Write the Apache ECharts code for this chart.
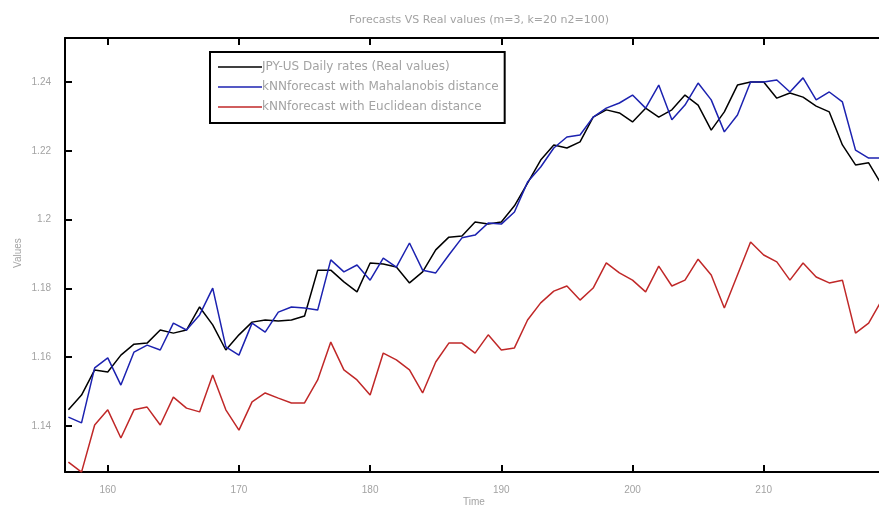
<!DOCTYPE html>
<html>
<head>
<meta charset="utf-8">
<script src="https://cdn.jsdelivr.net/npm/echarts@6/dist/echarts.min.js"></script>
<style>
  html, body { margin: 0; padding: 0; background: #fff; overflow: hidden; width: 879px; height: 508px; }
  /* the plot area runs past the right edge of the window */
  #chart { width: 920px; height: 508px; }
</style>
</head>
<body>
<div id="chart"></div>
<script>
// Time steps (days)
const timeSteps = [157,158,159,160,161,162,163,164,165,166,167,168,169,170,171,172,173,174,175,176,177,178,179,180,181,182,183,184,185,186,187,188,189,190,191,192,193,194,195,196,197,198,199,200,201,202,203,204,205,206,207,208,209,210,211,212,213,214,215,216,217,218,219];

// JPY-US daily rates (real values)
const realValues = [1.1447,1.1490,1.1563,1.1557,1.1606,1.1638,1.1641,1.1679,1.1670,1.1679,1.1746,1.1694,1.1621,1.1665,1.1702,1.1708,1.1705,1.1708,1.1720,1.1853,1.1853,1.1819,1.1790,1.1874,1.1871,1.1862,1.1816,1.1848,1.1912,1.1949,1.1952,1.1993,1.1987,1.1993,1.2040,1.2106,1.2173,1.2217,1.2208,1.2226,1.2298,1.2319,1.2310,1.2284,1.2324,1.2298,1.2319,1.2362,1.2333,1.2260,1.2313,1.2391,1.2400,1.2400,1.2353,1.2368,1.2356,1.2330,1.2313,1.2217,1.2159,1.2165,1.2101];

// kNN forecast, Mahalanobis distance
const mahalanobisForecast = [1.1426,1.1409,1.1569,1.1598,1.1519,1.1615,1.1635,1.1621,1.1699,1.1679,1.1723,1.1801,1.1630,1.1606,1.1699,1.1673,1.1731,1.1746,1.1743,1.1737,1.1883,1.1848,1.1868,1.1824,1.1888,1.1862,1.1932,1.1853,1.1845,1.1897,1.1947,1.1955,1.1990,1.1987,1.2022,1.2109,1.2153,1.2208,1.2240,1.2246,1.2298,1.2324,1.2339,1.2362,1.2324,1.2391,1.2290,1.2333,1.2397,1.2348,1.2255,1.2304,1.2400,1.2400,1.2406,1.2371,1.2412,1.2348,1.2371,1.2342,1.2202,1.2179,1.2179];

// kNN forecast, Euclidean distance
const euclideanForecast = [1.1295,1.1266,1.1403,1.1447,1.1365,1.1447,1.1455,1.1403,1.1484,1.1452,1.1441,1.1548,1.1447,1.1388,1.1470,1.1496,1.1481,1.1467,1.1467,1.1534,1.1644,1.1563,1.1534,1.1490,1.1612,1.1592,1.1563,1.1496,1.1586,1.1641,1.1641,1.1612,1.1665,1.1621,1.1627,1.1708,1.1758,1.1792,1.1807,1.1766,1.1801,1.1874,1.1845,1.1824,1.1790,1.1865,1.1807,1.1824,1.1885,1.1839,1.1743,1.1839,1.1935,1.1897,1.1877,1.1824,1.1874,1.1833,1.1816,1.1824,1.1670,1.1699,1.1766];

// Tick labels
const xTicks = [160,170,180,190,200,210,220];
const yTicks = [1.14,1.16,1.18,1.2,1.22,1.24];

const seriesNames = [
  'JPY-US Daily rates (Real values)',
  'kNNforecast with Mahalanobis distance',
  'kNNforecast with Euclidean distance'
];

const pairs = (ys) => timeSteps.map((t, i) => [t, ys[i]]);

const textColor = '#a3a3a3';
const tickFont = '"Liberation Sans", Arial, sans-serif';
const wideFont = '"DejaVu Sans", sans-serif';

const chart = echarts.init(document.getElementById('chart'), null, { renderer: 'canvas' });

const axisCommon = {
  type: 'value',
  axisLine: { show: true, onZero: false, lineStyle: { color: '#000', width: 2 } },
  axisTick: { show: true, inside: true, length: 7, lineStyle: { color: '#000', width: 2 } },
  splitLine: { show: false }
};

const xRange = { min: 156.74, max: 221 };
const yRange = { min: 1.12663, max: 1.25279 };

chart.setOption({
  animation: false,
  backgroundColor: '#fff',
  title: {
    text: 'Forecasts VS Real values (m=3, k=20 n2=100)',
    left: 474,
    top: 10,
    textAlign: 'center',
    textStyle: { color: textColor, fontSize: 11, fontWeight: 'normal', fontFamily: wideFont }
  },
  grid: { left: 65, top: 38, bottom: 36, right: 12, containLabel: false },
  legend: {
    orient: 'vertical',
    left: 210,
    top: 52,
    padding: [9, 6, 10, 8],
    itemGap: 8,
    itemWidth: 44,
    itemHeight: 14,
    borderColor: '#000',
    borderWidth: 2,
    backgroundColor: '#fff',
    icon: 'path://M0,6.3 L44,6.3 L44,7.7 L0,7.7 Z',
    textStyle: { color: textColor, fontSize: 12, fontFamily: wideFont, padding: [0, 0, 0, -5] },
    data: seriesNames
  },
  xAxis: [
    Object.assign({}, axisCommon, xRange, {
      position: 'bottom',
      axisTick: Object.assign({}, axisCommon.axisTick, { customValues: xTicks }),
      axisLabel: { customValues: xTicks, color: textColor, fontSize: 10, fontFamily: tickFont, margin: 13 }
    }),
    Object.assign({}, axisCommon, xRange, {
      position: 'top',
      axisTick: Object.assign({}, axisCommon.axisTick, { customValues: xTicks }),
      axisLabel: { show: false }
    })
  ],
  yAxis: [
    Object.assign({}, axisCommon, yRange, {
      position: 'left',
      axisTick: Object.assign({}, axisCommon.axisTick, { customValues: yTicks }),
      axisLabel: {
        customValues: yTicks, color: textColor, fontSize: 10, fontFamily: tickFont, margin: 14,
        formatter: (v) => String(Math.round(v * 100) / 100)
      }
    }),
    Object.assign({}, axisCommon, yRange, {
      position: 'right',
      axisTick: Object.assign({}, axisCommon.axisTick, { customValues: yTicks }),
      axisLabel: { show: false }
    })
  ],
  graphic: [
    {
      type: 'text', left: 463, top: 497,
      style: { text: 'Time', fill: textColor, font: '10px ' + tickFont }
    },
    {
      type: 'text', x: 13, y: 268, rotation: Math.PI / 2,
      style: { text: 'Values', fill: textColor, font: '10px ' + tickFont }
    }
  ],
  series: [
    {
      name: seriesNames[0], type: 'line', data: pairs(realValues),
      symbol: 'none', clip: true,
      lineStyle: { color: '#000', width: 1.5 }, itemStyle: { color: '#000' }
    },
    {
      name: seriesNames[1], type: 'line', data: pairs(mahalanobisForecast),
      symbol: 'none', clip: true,
      lineStyle: { color: '#1c22b0', width: 1.5 }, itemStyle: { color: '#1c22b0' }
    },
    {
      name: seriesNames[2], type: 'line', data: pairs(euclideanForecast),
      symbol: 'none', clip: true,
      lineStyle: { color: '#c02828', width: 1.5 }, itemStyle: { color: '#c02828' }
    }
  ]
});
</script>
</body>
</html>
